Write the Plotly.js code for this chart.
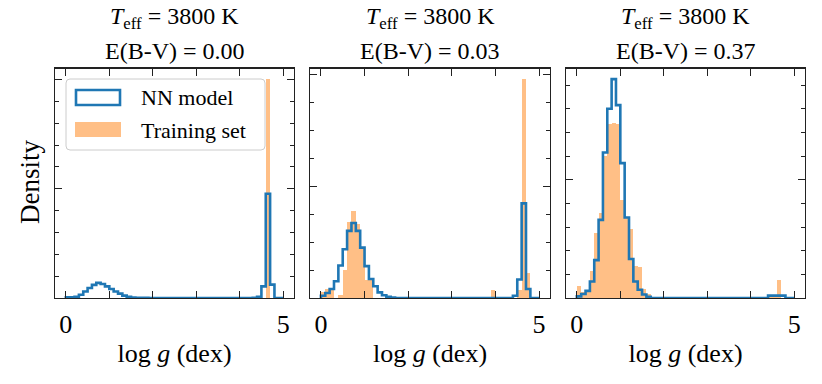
<!DOCTYPE html>
<html>
<head>
<meta charset="utf-8">
<script src="https://cdn.plot.ly/plotly-3.0.1.min.js"></script>
<style>body{margin:0;background:#fff}#chart{width:822px;height:384px}</style>
</head>
<body>
<div id="chart"></div>
<script>
// histogram bins, log g from 0 to 5 dex
var binLeft = [0.0,0.1,0.2,0.3,0.4,0.5,0.6,0.7,0.8,0.9,
               1.0,1.1,1.2,1.3,1.4,1.5,1.6,1.7,1.8,1.9,
               2.0,2.1,2.2,2.3,2.4,2.5,2.6,2.7,2.8,2.9,
               3.0,3.1,3.2,3.3,3.4,3.5,3.6,3.7,3.8,3.9,
               4.0,4.1,4.2,4.3,4.4,4.5,4.6,4.7,4.8,4.9];
var binWidth = 0.1;

// E(B-V) = 0.00
var nn1 = [0.03,0.03,0.05,0.15,0.30,0.46,0.60,0.69,0.64,0.53,
           0.41,0.30,0.20,0.11,0.05,0.02,0.01,0.01,0.01,0,
           0,0,0,0,0,0,0,0,0,0,
           0,0,0,0,0,0,0,0,0,0,
           0,0,0,0.01,0.05,0.53,4.77,0.61,0,0];
var train1 = [0,0,0,0,0,0,0,0,0,0,
              0,0,0,0,0,0,0,0,0,0,
              0,0,0,0,0,0,0,0,0,0,
              0,0,0,0,0,0,0,0,0,0,
              0,0,0,0,0,0,10.0,0,0,0];

// E(B-V) = 0.03
var nn2 = [0.04,0.09,0.16,0.30,0.58,0.87,1.20,1.34,1.20,0.90,
           0.57,0.34,0.21,0.10,0.05,0.02,0.01,0,0,0,
           0,0,0,0,0,0,0,0,0,0,
           0,0,0,0,0,0,0,0,0,0,
           0,0,0,0,0.04,0.33,1.69,0.16,0,0];
var train2 = [0.10,0.16,0.16,0,0.05,0.50,1.35,1.56,1.32,0.87,
              0.33,0.33,0,0,0,0,0,0,0,0,
              0,0,0,0,0,0,0,0,0,0,
              0,0,0,0,0,0,0,0,0,0.15,
              0,0,0,0,0,0.14,3.92,0.45,0,0];

// E(B-V) = 0.37
var nn3 = [0.014,0.034,0.06,0.14,0.32,0.66,1.23,1.60,1.85,1.63,
           1.14,0.68,0.33,0.14,0.07,0.03,0.01,0,0,0,
           0,0,0,0,0,0,0,0,0,0,
           0,0,0,0,0,0,0,0,0,0,
           0,0,0,0,0.02,0.02,0.02,0.02,0,0];
var train3 = [0.10,0.05,0.06,0.23,0.55,0.72,1.20,1.47,1.48,1.47,
              0.83,0.68,0.58,0.27,0.26,0.08,0.03,0,0,0,
              0,0,0,0,0,0,0,0,0,0,
              0,0,0,0,0,0,0,0,0,0,
              0,0,0,0,0.01,0.02,0.15,0,0,0];

var ebvLabels = ["0.00", "0.03", "0.37"];
var teff = 3800;
var xTickVals = [0, 1, 2, 3, 4, 5];
var xTickText = ["0", "", "", "", "", "5"];

var nnSets = [nn1, nn2, nn3];
var trainSets = [train1, train2, train3];
var yTop = [10.5, 4.1, 1.94];
var yMajor = [5, 2, 1];
var yMinor = [1, 0.5, 0.2];

var W = 822, H = 384;
var panelPx = [[55, 294], [310, 550], [566, 805]];
var topPx = 68.5, botPx = 298;
var font = "Liberation Serif, Times New Roman, serif";
var blue = "#1f77b4";
var orange = "rgba(255,127,14,0.5)";

function px(x) { return x / W; }
function py(y) { return 1 - y / H; }

var data = [];
var layout = {
  width: W, height: H,
  margin: {l: 0, r: 0, t: 0, b: 0},
  paper_bgcolor: "white", plot_bgcolor: "white",
  showlegend: false,
  barmode: "overlay",
  bargap: 0,
  font: {family: font, color: "black", size: 24},
  annotations: [],
  shapes: []
};

var centers = binLeft.map(v => v + binWidth / 2);

for (var i = 0; i < 3; i++) {
  var sfx = i === 0 ? "" : String(i + 1);
  // step outline for the NN model
  var xs = [binLeft[0]].concat(binLeft, [binLeft[binLeft.length - 1] + binWidth]);
  var ys = [0].concat(nnSets[i], [0]);
  data.push({
    x: xs, y: ys, type: "scatter", mode: "lines",
    line: {shape: "hv", color: blue, width: 2.6},
    xaxis: "x" + sfx, yaxis: "y" + sfx, name: "NN model",
    hoverinfo: "skip"
  });
  data.push({
    x: centers, y: trainSets[i], type: "bar", width: binWidth,
    marker: {color: orange, line: {width: 0}},
    xaxis: "x" + sfx, yaxis: "y" + sfx, name: "Training set"
  });

  layout["xaxis" + sfx] = {
    domain: [px(panelPx[i][0]), px(panelPx[i][1])],
    anchor: "y" + sfx,
    range: [-0.25, 5.25],
    tickmode: "array", tickvals: xTickVals, ticktext: xTickText,
    ticks: "inside", ticklen: 7, tickwidth: 1, tickcolor: "#222",
    showline: true, linecolor: "#222", linewidth: 1.3, mirror: "ticks",
    showgrid: false, zeroline: false,
    tickfont: {size: 26, family: font},
    ticklabelstandoff: 2,
    title: {text: "log <i>g</i> (dex)", font: {size: 26, family: font}, standoff: 6}
  };
  layout["yaxis" + sfx] = {
    domain: [py(botPx), py(topPx)],
    anchor: "x" + sfx,
    range: [0, yTop[i]],
    dtick: yMajor[i], tick0: 0,
    ticks: "inside", ticklen: 7, tickwidth: 1, tickcolor: "#222",
    minor: {dtick: yMinor[i], ticks: "inside", ticklen: 4, tickwidth: 1, tickcolor: "#222"},
    showticklabels: false,
    showline: true, linecolor: "#222", linewidth: 1.3, mirror: "ticks",
    showgrid: false, zeroline: false
  };

  var cx = px((panelPx[i][0] + panelPx[i][1]) / 2);
  layout.annotations.push({
    xref: "paper", yref: "paper", x: cx, y: py(35),
    xanchor: "center", yanchor: "bottom", showarrow: false,
    text: "<i>T</i><sub>eff</sub> = " + teff + " K",
    font: {size: 24, family: font}
  });
  layout.annotations.push({
    xref: "paper", yref: "paper", x: cx, y: py(36),
    xanchor: "center", yanchor: "top", showarrow: false,
    text: "E(B-V) = " + ebvLabels[i],
    font: {size: 24, family: font}
  });
}

// y label
layout.annotations.push({
  xref: "paper", yref: "paper", x: px(30), y: py(182),
  xanchor: "center", yanchor: "middle", showarrow: false, textangle: -90,
  text: "Density", font: {size: 27, family: font}
});

// legend in the first panel
function roundRect(x0, y0, x1, y1, r) {
  function p(x, y) { return px(x) + "," + py(y); }
  return "M" + p(x0 + r, y0) + " L" + p(x1 - r, y0) + " Q" + p(x1, y0) + " " + p(x1, y0 + r) +
         " L" + p(x1, y1 - r) + " Q" + p(x1, y1) + " " + p(x1 - r, y1) +
         " L" + p(x0 + r, y1) + " Q" + p(x0, y1) + " " + p(x0, y1 - r) +
         " L" + p(x0, y0 + r) + " Q" + p(x0, y0) + " " + p(x0 + r, y0) + " Z";
}
layout.shapes.push({
  type: "path", xref: "paper", yref: "paper", layer: "above",
  path: roundRect(66, 79, 265, 150, 4),
  fillcolor: "rgba(255,255,255,0.8)", line: {color: "#cccccc", width: 1}
});
layout.shapes.push({
  type: "rect", xref: "paper", yref: "paper", layer: "above",
  x0: px(76), x1: px(120), y0: py(90), y1: py(105),
  fillcolor: "rgba(0,0,0,0)", line: {color: blue, width: 2.6}
});
layout.shapes.push({
  type: "rect", xref: "paper", yref: "paper", layer: "above",
  x0: px(75), x1: px(121), y0: py(122), y1: py(137),
  fillcolor: orange, line: {width: 0}
});
layout.annotations.push({
  xref: "paper", yref: "paper", x: px(139), y: py(98),
  xanchor: "left", yanchor: "middle", showarrow: false,
  text: "NN model", font: {size: 22, family: font}
});
layout.annotations.push({
  xref: "paper", yref: "paper", x: px(139), y: py(130),
  xanchor: "left", yanchor: "middle", showarrow: false,
  text: "Training set", font: {size: 22, family: font}
});

Plotly.newPlot("chart", data, layout, {staticPlot: true});
</script>
</body>
</html>
